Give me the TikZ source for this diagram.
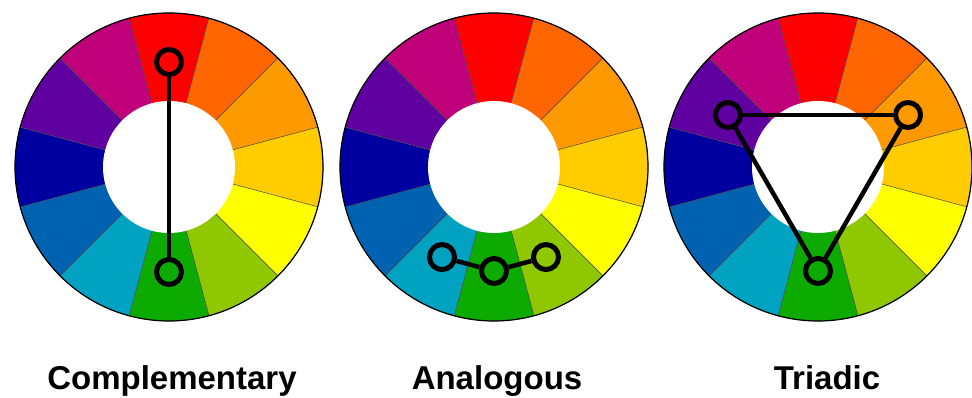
\documentclass[tikz,border=0pt]{standalone}
\usepackage{fontspec}
\setmainfont{Liberation Sans}
\usetikzlibrary{calc}
\definecolor{cR}{HTML}{FF0000}
\definecolor{cRO}{HTML}{FF6600}
\definecolor{cO}{HTML}{FF9900}
\definecolor{cYO}{HTML}{FFCC00}
\definecolor{cY}{HTML}{FFFF00}
\definecolor{cYG}{HTML}{8FC800}
\definecolor{cG}{HTML}{0DAA00}
\definecolor{cBG}{HTML}{00A2C2}
\definecolor{cB}{HTML}{0062B0}
\definecolor{cDB}{HTML}{0000A0}
\definecolor{cV}{HTML}{6000A0}
\definecolor{cM}{HTML}{C0007A}
\begin{document}
\begin{tikzpicture}[
  marker/.style={circle,draw=black,line width=5pt,minimum size=25pt,inner sep=0pt},
  link/.style={line width=4.5pt,draw=black},
  caption/.style={font=\bfseries\fontsize{33}{36}\selectfont,anchor=base},
  segline/.style={draw=black!70,line width=0.4pt}
]
\useasboundingbox (0pt,0pt) rectangle (972pt,398pt);
\fill[white] (0pt,0pt) rectangle (972pt,398pt);
\coordinate (wA) at (169pt,231pt);
\coordinate (wB) at (494pt,231pt);
\coordinate (wC) at (818pt,231pt);
\foreach \w in {wA,wB,wC} {
  \foreach \c [count=\i from 0] in {cR,cRO,cO,cYO,cY,cYG,cG,cBG,cB,cDB,cV,cM} {
    \pgfmathsetmacro\a{105-30*\i}
    \pgfmathsetmacro\b{75-30*\i}
    \filldraw[fill=\c,segline] (\w) -- ($(\w)+(\a:154pt)$) arc[start angle=\a,end angle=\b,radius=154pt] -- cycle;
  }
  \fill[white] (\w) circle[radius=66pt];
  \draw[black,line width=1.2pt] (\w) circle[radius=154pt];
}
% Complementary
\node[marker] (a1) at ($(wA)+(90:105pt)$) {};
\node[marker] (a2) at ($(wA)+(270:105pt)$) {};
\draw[link] (a1) -- (a2);
% Analogous
\node[marker] (b1) at ($(wB)+(240:104pt)$) {};
\node[marker] (b2) at ($(wB)+(270:104pt)$) {};
\node[marker] (b3) at ($(wB)+(300:104pt)$) {};
\draw[link] (b1) -- (b2) -- (b3);
% Triadic
\node[marker] (c1) at ($(wC)+(150:104pt)$) {};
\node[marker] (c2) at ($(wC)+(30:104pt)$) {};
\node[marker] (c3) at ($(wC)+(270:104pt)$) {};
\draw[link] (c1) -- (c2);
\draw[link] (c2) -- (c3);
\draw[link] (c3) -- (c1);
% Captions
\node[caption] (tA) at (172pt,8pt) {Complementary};
\node[caption] (tB) at (497pt,8pt) {Analogous};
\node[caption] (tC) at (827pt,8pt) {Triadic};
\end{tikzpicture}
\end{document}
